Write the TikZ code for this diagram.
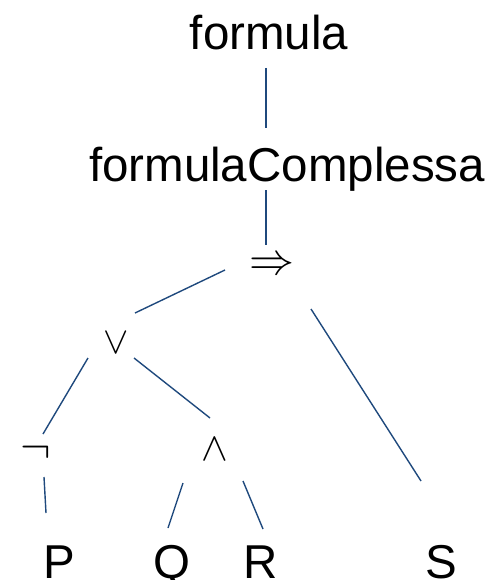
\documentclass[tikz,border=0pt]{standalone}
\usepackage{fontspec}
\usepackage{graphicx}
\setmainfont{Liberation Sans}
\begin{document}
\begin{tikzpicture}[x=1pt,y=-1pt,
  lbl/.style={inner sep=0pt,anchor=base,font=\fontsize{47.5}{50}\selectfont},
  sym/.style={inner sep=0pt,anchor=center},
  edge/.style={draw={rgb,255:red,31;green,73;blue,125},line width=1.4pt}]
\useasboundingbox (0,0) rectangle (491,580);
% tree nodes
\node[lbl] (formula) at (269,50) {formula};
\node[lbl] (complessa) at (287,181) {formulaComplessa};
\node[sym] (impl) at (272,266) {\scalebox{4.5}{$\Rightarrow$}};
\node[sym] (or) at (116,343) {\scalebox{3.8}{$\vee$}};
\node[sym] (not) at (36,453) {\scalebox{4.6}{$\neg$}};
\node[sym] (and) at (215,449) {\scalebox{4}{$\wedge$}};
\node[lbl] (P) at (59,578) {P};
\node[lbl] (Q) at (172,578) {Q};
\node[lbl] (R) at (261,578) {R};
\node[lbl] (S) at (441,578) {S};
% connector ends
\coordinate (formula-a) at (266,68);  \coordinate (formula-b) at (266,128);
\coordinate (complessa-a) at (266,190); \coordinate (complessa-b) at (266,245);
\coordinate (impl-l) at (225,270); \coordinate (or-t) at (135,313);
\coordinate (impl-r) at (311,309); \coordinate (S-t) at (421,481);
\coordinate (or-l) at (88,358); \coordinate (not-t) at (43,434);
\coordinate (or-r) at (134,358); \coordinate (and-t) at (210,418);
\coordinate (not-b) at (44,477); \coordinate (P-t) at (46,513);
\coordinate (and-l) at (183,483); \coordinate (Q-t) at (168,528);
\coordinate (and-r) at (243,481); \coordinate (R-t) at (263,529);
% connectors
\draw[edge] (formula-a) -- (formula-b);
\draw[edge] (complessa-a) -- (complessa-b);
\draw[edge] (impl-l) -- (or-t);
\draw[edge] (impl-r) -- (S-t);
\draw[edge] (or-l) -- (not-t);
\draw[edge] (or-r) -- (and-t);
\draw[edge] (not-b) -- (P-t);
\draw[edge] (and-l) -- (Q-t);
\draw[edge] (and-r) -- (R-t);
\end{tikzpicture}
\end{document}
